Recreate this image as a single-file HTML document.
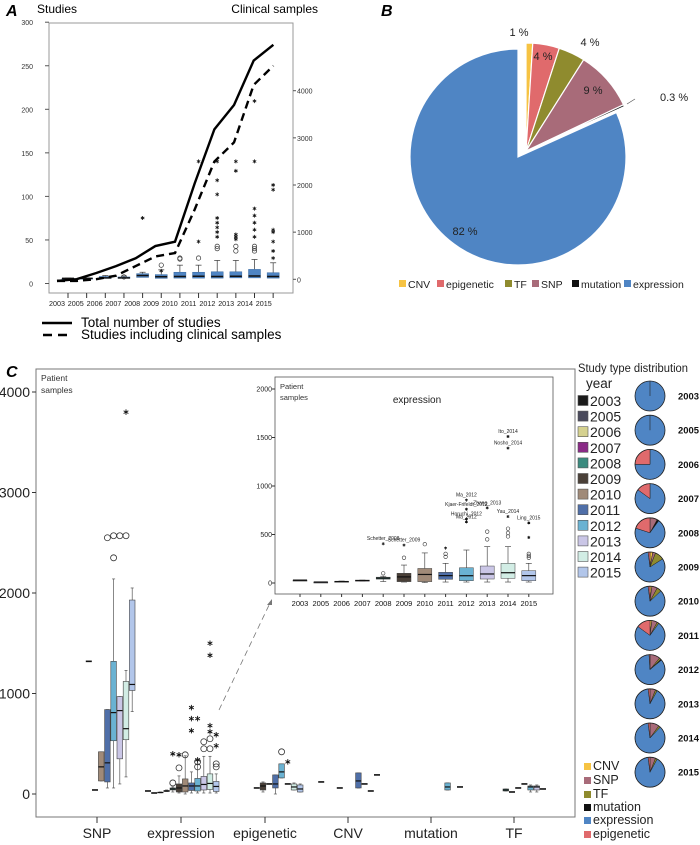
<!DOCTYPE html>
<html><head><meta charset="utf-8"><style>
html,body{margin:0;padding:0;background:#fff;}
svg{display:block;font-family:"Liberation Sans",sans-serif;}
</style></head><body>
<svg id="fig" width="700" height="845" viewBox="0 0 700 845" xmlns="http://www.w3.org/2000/svg">
<g id="gA"></g>
<g id="gB"></g>
<g id="gC"></g>
<g id="gD"></g>
</svg>
<script>
// ---------- Panel A data ----------
const yearsA = ["2003","2005","2006","2007","2008","2009","2010","2011","2012","2013","2014","2015"];
const totalStudies = [3,5,12,20,29,43,48,115,177,205,256,274];
const clinicalStudies = [3,3,5,9,20,31,35,85,140,162,228,250];
const boxQ1A = [20,15,20,20,40,20,25,25,25,30,30,25];
const boxMedA = [20,20,30,30,80,55,60,65,60,65,70,60];
const boxQ3A = [20,25,60,50,120,100,150,150,160,160,210,140];
const boxHiA = [25,30,80,70,150,200,300,300,400,400,420,350];
const starsA = [[],[],[],[],[1300],[180],[],[2500,800],[2500,2100,1800,1300,1200,1100,1000,900],[2500,2300,950,900,850],[3780,2500,1500,1350,1200,1050,900],[2000,1900,1050,1000,800,600,450]];
const circlesA = [[],[],[],[50],[],[300],[450,430],[450],[700,650],[700,600],[700,650,600],[]];
const ticksL = [0,50,100,150,200,250,300];
const ticksR = [0,1000,2000,3000,4000];

// ---------- Panel B data ----------
const pieCats = ["CNV","epigenetic","TF","SNP","mutation","expression"];
const pieVals = [1,4,4,9,0.3,82];
const pieLabels = ["1 %","4 %","4 %","9 %","0.3 %","82 %"];
const pieColors = ["#f6c343","#e06a6c","#8f8b2e","#a86b79","#111111","#4f85c4"];

// ---------- Panel C data ----------
const yearsC = ["2003","2005","2006","2007","2008","2009","2010","2011","2012","2013","2014","2015"];
const yearColors = ["#1b1b1b","#4a4a5c","#d5d18f","#8a2a86","#3b8a7e","#4a4038","#a08a78","#4f6fa8","#6ab2d2","#cac6e6","#d2ede5","#b2c6ea"];
const catsC = ["SNP","expression","epigenetic","CNV","mutation","TF"];
// per category: [yearIndex, lo, q1, med, q3, hi]
const snpBoxes = [[4,1320,1320,1320,1320,1320],[5,40,40,40,40,40],[6,130,130,270,420,420],[7,60,120,310,840,840],[8,60,530,810,1320,2140],[9,100,350,830,970,970],[10,170,540,650,1120,1230],[11,820,1030,1090,1930,2050]];
const exprBoxes = [[0,30,30,30,30,30],[1,10,10,10,10,10],[2,12,12,15,18,20],[3,25,25,30,35,40],[4,20,40,50,60,70],[5,10,20,60,100,180],[6,0,20,80,150,380],[7,10,35,80,110,220],[8,10,30,80,155,340],[9,10,40,95,175,375],[10,10,45,105,200,375],[11,10,25,75,125,200]];
const epiBoxes = [[4,60,60,60,60,60],[5,20,40,80,110,120],[6,100,100,100,100,100],[7,0,60,100,190,190],[8,160,160,220,300,300],[9,100,100,100,100,100],[10,40,40,70,100,110],[11,20,20,50,90,100]];
const cnvBoxes = [[1,120,120,120,120,120],[4,60,60,60,60,60],[7,60,60,130,210,210],[8,100,100,100,100,100],[9,30,30,30,30,30],[10,190,190,190,190,190]];
const mutBoxes = [[8,40,40,70,110,110],[10,70,70,70,70,70]];
const tfBoxes = [[4,30,30,40,50,50],[5,20,20,20,20,20],[6,60,60,60,60,60],[7,100,100,100,100,100],[8,20,40,70,80,90],[9,20,40,70,80,90],[10,50,50,50,50,50]];
const outStarsC = [[0,10,3800],[1,10,1380],[1,10,1500],[1,7,860],[1,7,750],[1,8,750],[1,7,630],[1,10,680],[1,10,620],[1,11,590],[1,11,480],[1,4,400],[1,5,390],[1,8,340],[2,9,320]];
const outCircC = [[0,7,2550],[0,8,2570],[0,9,2570],[0,10,2570],[0,8,2350],[1,6,390],[1,5,260],[1,8,320],[1,8,270],[1,9,520],[1,9,450],[1,10,550],[1,10,450],[1,11,300],[1,11,270],[1,4,110],[2,8,420]];
const ticksC = [0,1000,2000,3000,4000];

// inset (expression)
const inLo = [30,10,12,20,15,10,5,10,10,10,10,10];
const inQ1 = [30,10,12,20,40,14,14,38,24,41,48,24];
const inMed = [30,10,15,25,50,63,88,76,75,93,106,76];
const inQ3 = [30,10,18,30,60,100,150,110,157,175,203,127];
const inHi = [30,10,20,30,70,185,310,203,340,375,375,203];
const inCircles = [[],[],[],[],[100],[260],[400],[300,270],[],[450,530],[560,515,480],[300,280,260]];
const inStars = [[],[],[],[],[405],[390],[],[360],[855,760,660,630],[775],[1510,1390,685],[620,470]];
const inStarLabels = [[],[],[],[],["Schetter_2008"],["Schetter_2009"],[],[""],["Ma_2012","Kjaer-Frifeldt_2012","Horuchi_2012","Ma_2012"],["Zhang_2013"],["Ito_2014","Nosho_2014","Yau_2014"],["Ling_2015",""]];
const ticksIn = [0,500,1000,1500,2000];

// year pies: [CNV, SNP, TF, mutation, expression, epigenetic]
const typeNames = ["CNV","SNP","TF","mutation","expression","epigenetic"];
const typeColors = ["#f6c343","#a86b79","#8f8b2e","#111111","#4f85c4","#e06a6c"];
const yearPies = [[0,0,0,0,100,0],[0,0,0,0,100,0],[0,0,0,0,75,25],[0,0,0,0,85,15],[0,8,0,2,70,20],[3,3,10,0,82,2],[2,6,5,0,85,2],[2,6,2,0,75,15],[0,11,2,1,85,1],[0,6,2,0,90,2],[0,10,2,0,86,2],[0,6,2,0,90,2]];

const NS="http://www.w3.org/2000/svg";
function mk(parent,tag,attrs,text){const e=document.createElementNS(NS,tag);for(const k in attrs)e.setAttribute(k,attrs[k]);if(text!==undefined)e.textContent=text;parent.appendChild(e);return e;}
function star(parent,x,y,s){const h=s/2;let d="";for(let k=0;k<3;k++){const a=k*Math.PI/3;const dx=h*Math.sin(a),dy=h*Math.cos(a);d+=`M${x-dx},${y-dy}L${x+dx},${y+dy}`;}
return mk(parent,"path",{d:d,stroke:"#111","stroke-width":Math.max(0.8,s/6),fill:"none"});}

// ===== Panel A =====
const gA=document.getElementById("gA");
const xA=i=>68+i*18.65, xLine=i=>57+i*19.67, yL=v=>283.5-v*0.871, yR=v=>279.3-v*0.04715;
let t=mk(gA,"text",{x:6,y:16,"font-size":16,"font-weight":"bold","font-style":"italic"},"A");

t=mk(gA,"text",{x:37,y:13,"font-size":12},"Studies");

t=mk(gA,"text",{x:318,y:13,"font-size":12,"text-anchor":"end"},"Clinical samples");

let r=mk(gA,"rect",{x:49,y:23,width:244,height:270,fill:"none",stroke:"#999","stroke-width":1});

ticksL.forEach(v=>{const tt=mk(gA,"text",{x:33,y:yL(v)+3,"font-size":7,"text-anchor":"end",fill:"#333"},v);

mk(gA,"line",{x1:45,x2:49,y1:yL(v),y2:yL(v),stroke:"#555"});});
ticksR.forEach(v=>{const tt=mk(gA,"text",{x:297,y:yR(v)+3,"font-size":7,fill:"#333"},v);

mk(gA,"line",{x1:293,x2:296,y1:yR(v),y2:yR(v),stroke:"#555"});});
yearsA.forEach((y,i)=>{mk(gA,"line",{x1:xA(i),x2:xA(i),y1:293,y2:298,stroke:"#333"});
const tt=mk(gA,"text",{x:57+i*18.8,y:306,"font-size":7.2,"text-anchor":"middle",fill:"#222"},y);
});
// boxes
yearsA.forEach((y,i)=>{const x=xA(i);
mk(gA,"line",{x1:x,x2:x,y1:yR(boxHiA[i]),y2:yR(boxQ3A[i]),stroke:"#333","stroke-width":0.7});
mk(gA,"line",{x1:x-3,x2:x+3,y1:yR(boxHiA[i]),y2:yR(boxHiA[i]),stroke:"#333","stroke-width":0.7});
const b=mk(gA,"rect",{x:x-6,y:yR(boxQ3A[i]),width:12,height:Math.max(1,yR(boxQ1A[i])-yR(boxQ3A[i])),fill:"#4f85c4",stroke:"#3a6aa0","stroke-width":0.5});

mk(gA,"line",{x1:x-6,x2:x+6,y1:yR(boxMedA[i]),y2:yR(boxMedA[i]),stroke:"#111","stroke-width":1.5});
starsA[i].forEach(v=>star(gA,x,yR(v),4));
circlesA[i].forEach(v=>mk(gA,"circle",{cx:x,cy:yR(v),r:2.2,fill:"none",stroke:"#333","stroke-width":0.7}));});
const ptsT=totalStudies.map((v,i)=>xLine(i)+","+yL(v)).join(" ");
let pl=mk(gA,"polyline",{points:ptsT,fill:"none",stroke:"#000","stroke-width":2.4});

const ptsC=clinicalStudies.map((v,i)=>xLine(i)+","+yL(v)).join(" ");
pl=mk(gA,"polyline",{points:ptsC,fill:"none",stroke:"#000","stroke-width":2.4,"stroke-dasharray":"8,5"});

// legend A
let lg=mk(gA,"g",{});
mk(lg,"line",{x1:42,x2:72,y1:323,y2:323,stroke:"#000","stroke-width":2.4});
mk(lg,"text",{x:81,y:327,"font-size":13.5},"Total number of studies");
lg=mk(gA,"g",{});
mk(lg,"line",{x1:43,x2:72,y1:335,y2:335,stroke:"#000","stroke-width":2.4,"stroke-dasharray":"9,6"});
mk(lg,"text",{x:81,y:339,"font-size":13.5},"Studies including clinical samples");

// ===== Panel B =====
const gB=document.getElementById("gB");
t=mk(gB,"text",{x:381,y:16,"font-size":16,"font-weight":"bold","font-style":"italic"},"B");

function arc(cx,cy,R,a0,a1){const p=a=>[cx+R*Math.sin(a),cy-R*Math.cos(a)];const s=p(a0),e=p(a1);const la=(a1-a0)>Math.PI?1:0;
return `M${cx},${cy} L${s[0]},${s[1]} A${R},${R} 0 ${la} 1 ${e[0]},${e[1]} Z`;}
const totB=pieVals.reduce((a,b)=>a+b,0);
let acc=0;
pieVals.forEach((v,i)=>{const a0=acc/totB*2*Math.PI;acc+=v;const a1=acc/totB*2*Math.PI;
const ex=i===5;const cx=ex?518:526,cy=ex?157:151;
const pth=mk(gB,"path",{d:arc(cx,cy,108,a0,a1),fill:pieColors[i],stroke:"#fff","stroke-width":1.2});
});
const labPos=[[519,36,0],[543,60,0],[590,46,0],[593,94,0],[660,101,0],[465,235,0]];
pieLabels.forEach((l,i)=>{const tt=mk(gB,"text",{x:labPos[i][0],y:labPos[i][1],"font-size":11,"text-anchor":i===4?"start":"middle",fill:"#222"},l);
});
mk(gB,"line",{x1:627,x2:635,y1:104,y2:99,stroke:"#555","stroke-width":0.7});
const legX=[399,437,505,532,572,624];
pieCats.forEach((c,i)=>{const g=mk(gB,"g",{});
mk(g,"rect",{x:legX[i],y:280,width:7,height:7,fill:pieColors[i]});
mk(g,"text",{x:legX[i]+9,y:288,"font-size":10.5,fill:"#222"},c);});

// ===== Panel C =====
const gC=document.getElementById("gC");
const yC=v=>794-v*0.1005;
const cxC=[97,181,265,348,431,514];
const slotX=(ci,s)=>cxC[ci]-33+s*6.2;
t=mk(gC,"text",{x:6,y:377,"font-size":16,"font-weight":"bold","font-style":"italic"},"C");

r=mk(gC,"rect",{x:36,y:369,width:539,height:448,fill:"none",stroke:"#777","stroke-width":1});

mk(gC,"text",{x:41,y:381,"font-size":8.5,fill:"#333"},"Patient");
mk(gC,"text",{x:41,y:393,"font-size":8.5,fill:"#333"},"samples");
ticksC.forEach(v=>{mk(gC,"line",{x1:32,x2:36,y1:yC(v),y2:yC(v),stroke:"#333"});
const tt=mk(gC,"text",{x:30,y:yC(v)+5,"font-size":14,"text-anchor":"end",fill:"#222"},v);
});
catsC.forEach((c,i)=>{mk(gC,"line",{x1:cxC[i],x2:cxC[i],y1:817,y2:823,stroke:"#333"});
const tt=mk(gC,"text",{x:cxC[i],y:838,"font-size":14,"text-anchor":"middle",fill:"#222"},c);
});
const allBoxes=[snpBoxes,exprBoxes,epiBoxes,cnvBoxes,mutBoxes,tfBoxes];
allBoxes.forEach((arr,ci)=>arr.forEach(b=>{const x=slotX(ci,b[0]);const [lo,q1,med,q3,hi]=b.slice(1);
if(q3===q1){const ln=mk(gC,"line",{x1:x-3,x2:x+3,y1:yC(med),y2:yC(med),stroke:"#111","stroke-width":1.6});
return;}
mk(gC,"line",{x1:x,x2:x,y1:yC(hi),y2:yC(lo),stroke:"#555","stroke-width":0.7});
mk(gC,"line",{x1:x-1.5,x2:x+1.5,y1:yC(hi),y2:yC(hi),stroke:"#555","stroke-width":0.7});
mk(gC,"line",{x1:x-1.5,x2:x+1.5,y1:yC(lo),y2:yC(lo),stroke:"#555","stroke-width":0.7});
const bx=mk(gC,"rect",{x:x-2.8,y:yC(q3),width:5.6,height:yC(q1)-yC(q3),fill:yearColors[b[0]],stroke:"#444","stroke-width":0.6});

mk(gC,"line",{x1:x-2.8,x2:x+2.8,y1:yC(med),y2:yC(med),stroke:"#111","stroke-width":1.2});}));
outStarsC.forEach(o=>star(gC,slotX(o[0],o[1]),yC(o[2]),5.5));
outCircC.forEach(o=>mk(gC,"circle",{cx:slotX(o[0],o[1]),cy:yC(o[2]),r:3,fill:"none",stroke:"#333","stroke-width":0.8}));
// arrow
let ar=mk(gC,"line",{x1:219,y1:710,x2:270,y2:603,stroke:"#777","stroke-width":0.8,"stroke-dasharray":"6,4"});

mk(gC,"path",{d:"M272,599 L267,605 L272,605 Z",fill:"#777"});
// inset
const gI=mk(gC,"g",{});
mk(gI,"rect",{x:275,y:377,width:278,height:217,fill:"#fff",stroke:"#555","stroke-width":0.8});
const yI=v=>583-v*0.097, xI=i=>300+i*20.8;
mk(gI,"text",{x:280,y:389,"font-size":7.5,fill:"#333"},"Patient");
mk(gI,"text",{x:280,y:400,"font-size":7.5,fill:"#333"},"samples");
t=mk(gI,"text",{x:417,y:403,"font-size":10,"text-anchor":"middle",fill:"#222"},"expression");

ticksIn.forEach(v=>{mk(gI,"line",{x1:272,x2:275,y1:yI(v),y2:yI(v),stroke:"#333"});
const tt=mk(gI,"text",{x:272,y:yI(v)+2.5,"font-size":7,"text-anchor":"end",fill:"#222"},v);
});
yearsC.forEach((y,i)=>{const x=xI(i);
mk(gI,"line",{x1:x,x2:x,y1:594,y2:597,stroke:"#333"});
const tt=mk(gI,"text",{x:x,y:606,"font-size":7.5,"text-anchor":"middle",fill:"#111"},y);

mk(gI,"line",{x1:x,x2:x,y1:yI(inHi[i]),y2:yI(inLo[i]),stroke:"#333","stroke-width":0.6});
mk(gI,"line",{x1:x-3,x2:x+3,y1:yI(inHi[i]),y2:yI(inHi[i]),stroke:"#333","stroke-width":0.6});
mk(gI,"line",{x1:x-3,x2:x+3,y1:yI(inLo[i]),y2:yI(inLo[i]),stroke:"#333","stroke-width":0.6});
const bx=mk(gI,"rect",{x:x-7,y:yI(inQ3[i]),width:14,height:Math.max(1,yI(inQ1[i])-yI(inQ3[i])),fill:yearColors[i],stroke:"#444","stroke-width":0.5});

mk(gI,"line",{x1:x-7,x2:x+7,y1:yI(inMed[i]),y2:yI(inMed[i]),stroke:"#111","stroke-width":1.2});
inCircles[i].forEach(v=>mk(gI,"circle",{cx:x,cy:yI(v),r:1.8,fill:"none",stroke:"#333","stroke-width":0.6}));
inStars[i].forEach((v,k)=>{star(gI,x,yI(v),3);const lab=inStarLabels[i][k];
if(lab)mk(gI,"text",{x:x,y:yI(v)-3.5,"font-size":5,"text-anchor":"middle",fill:"#222"},lab);});});

// ===== Study type distribution =====
const gD=document.getElementById("gD");
t=mk(gD,"text",{x:578,y:372,"font-size":11.5,fill:"#222",textLength:110,lengthAdjust:"spacingAndGlyphs"},"Study type distribution");

mk(gD,"text",{x:586,y:388,"font-size":13.5,fill:"#222"},"year");
yearsC.forEach((y,i)=>{const g=mk(gD,"g",{});
const yy=401+i*15.6;
mk(g,"rect",{x:578,y:yy-5.5,width:10,height:10,fill:yearColors[i],stroke:"#555","stroke-width":0.6});
mk(g,"text",{x:590,y:yy+5,"font-size":14,fill:"#222"},y);});
yearPies.forEach((vals,i)=>{const cy=396+i*34.2,cx=650;const tot=vals.reduce((a,b)=>a+b,0);
const g=mk(gD,"g",{});
mk(g,"circle",{cx:cx,cy:cy,r:15,fill:"#4f85c4"});
let a=0;vals.forEach((v,k)=>{if(!v)return;const a0=a/tot*2*Math.PI;a+=v;const a1=a/tot*2*Math.PI;
if(v===tot)return;
mk(g,"path",{d:arc(cx,cy,15,a0,a1),fill:typeColors[k],stroke:"#222","stroke-width":0.5});});
if(vals[4]===tot)mk(g,"line",{x1:cx,x2:cx,y1:cy-15,y2:cy,stroke:"#222","stroke-width":0.6});
mk(g,"circle",{cx:cx,cy:cy,r:15,fill:"none",stroke:"#222","stroke-width":0.8});
mk(g,"text",{x:678,y:cy+3.5,"font-size":9.5,"font-weight":"bold",fill:"#111",textLength:21,lengthAdjust:"spacingAndGlyphs"},yearsC[i]);});
const legY=[770,784,798,811,824,838];
typeNames.forEach((n,i)=>{const g=mk(gD,"g",{});
mk(g,"rect",{x:584,y:legY[i]-7,width:7,height:7,fill:typeColors[i]});
mk(g,"text",{x:593,y:legY[i],"font-size":12.5,fill:"#222"},n);});
</script>
</body></html>
